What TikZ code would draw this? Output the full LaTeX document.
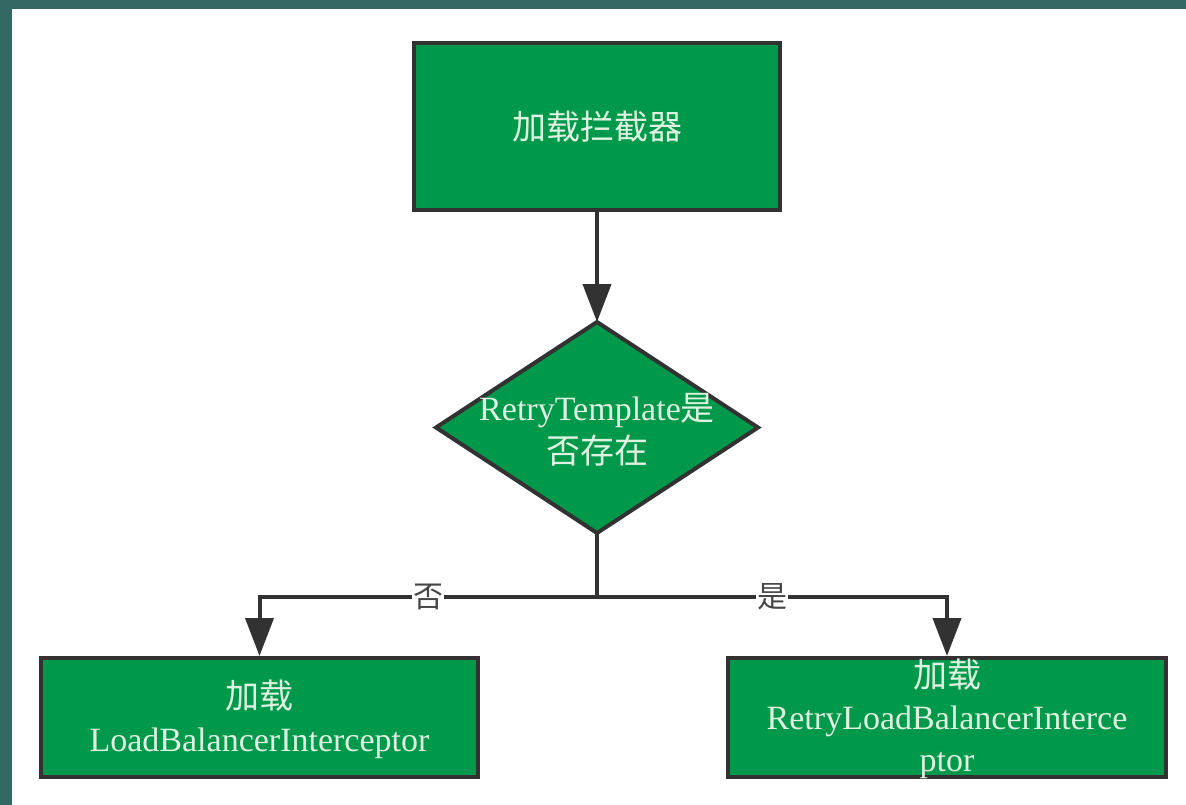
\documentclass[tikz,border=0pt]{standalone}
\usepackage{fontspec}
\setmainfont{Liberation Serif}
\newfontfamily\cjk{Noto Sans CJK SC}
\usetikzlibrary{shapes.geometric,arrows.meta}
\definecolor{frameteal}{RGB}{52,104,100}
\definecolor{boxgreen}{RGB}{0,152,74}
\definecolor{edgegray}{RGB}{50,50,50}
\definecolor{txtlight}{RGB}{222,242,224}
\definecolor{labelgray}{RGB}{70,70,70}
\begin{document}
\begin{tikzpicture}[x=1pt,y=-1pt,
  box/.style={draw=edgegray, line width=4pt, fill=boxgreen, text=txtlight,
    align=center, font=\fontsize{34}{44}\selectfont, inner sep=0pt},
  decbox/.style={diamond, draw=edgegray, line width=4pt, fill=boxgreen, inner sep=0pt,
    outer sep=0pt, minimum width=322pt, minimum height=211pt},
  boxtext/.style={text=txtlight, align=center, font=\fontsize{34}{43}\selectfont, inner sep=0pt},
  conn/.style={draw=edgegray, line width=4pt, -{Triangle[width=28pt,length=38pt]}},
  plainconn/.style={draw=edgegray, line width=4pt},
  edgelabel/.style={fill=white, text=labelgray, font=\fontsize{30}{34}\selectfont, inner sep=1pt}]
  \useasboundingbox (0,0) rectangle (1186,805);
  \fill[frameteal] (0,0) rectangle (1186,805);
  \fill[white] (12,9) rectangle (1186,805);

  \node[box, minimum width=366pt, minimum height=167pt] (top) at (597,126.5) {{\cjk 加载拦截器}};
  \node[decbox] (dec) at (597,427.5) {};
  \node[boxtext] (dectxt) at (597,430) {RetryTemplate{\cjk 是}\\{\cjk 否存在}};
  \node[box, minimum width=437pt, minimum height=119pt] (lb) at (259.5,717.5) {};
  \node[boxtext] (lbtxt) at (259.5,719) {{\cjk 加载}\\LoadBalancerInterceptor};
  \node[box, minimum width=438pt, minimum height=119pt] (rlb) at (947,717.5) {};
  \node[boxtext, font=\fontsize{34}{42}\selectfont] (rlbtxt) at (947,719) {{\cjk 加载}\\RetryLoadBalancerInterce\\ptor};
  \coordinate (split) at (597,597);

  \draw[conn] (top.south) -- (dec.north);
  \draw[plainconn] (dec.south) -- (split);
  \draw[conn] (split) -| node[edgelabel, pos=0.25] (no) {{\cjk 否}} (lb.north);
  \draw[conn] (split) -| node[edgelabel, pos=0.25] (yes) {{\cjk 是}} (rlb.north);
\end{tikzpicture}
\end{document}
